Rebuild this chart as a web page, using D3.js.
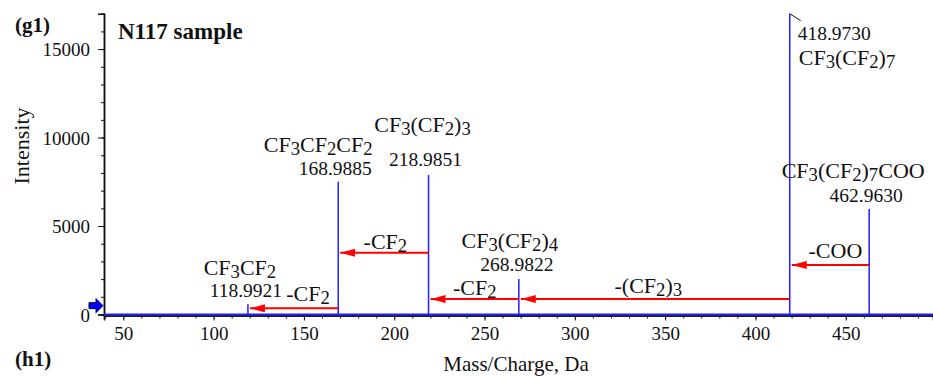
<!DOCTYPE html>
<html lang="en">
<head>
  <meta charset="UTF-8" />
  <title>N117 sample - MS/MS spectrum</title>
  <script src="https://d3js.org/d3.v7.min.js"></script>
  <style>
    body {
      margin: 0;
      background: #fff;
    }
    svg text {
      font-family: "Liberation Serif", "Times New Roman", serif;
    }
  </style>
</head>
<body>
  <svg width="933" height="376"></svg>

  <script>
    // Peak data
    const peakMz = [118.9921, 168.9885, 218.9851, 268.9822, 418.9730, 462.9630];
    const peakIntensity = [580, 7500, 7880, 2000, 17000, 5960];
    const peakFormula = ["CF_3CF_2", "CF_3CF_2CF_2", "CF_3(CF_2)_3", "CF_3(CF_2)_4", "CF_3(CF_2)_7", "CF_3(CF_2)_7COO"];

    // Neutral losses: from peak index -> to peak index, drawn at an intensity level
    const lossFrom = [1, 2, 3, 4, 5];
    const lossTo = [0, 1, 2, 3, 4];
    const lossLevel = [350, 3490, 875, 875, 2800];
    const lossLabel = ["-CF_2", "-CF_2", "-CF_2", "-(CF_2)_3", "-COO"];

    const xMajorTicks = [50, 100, 150, 200, 250, 300, 350, 400, 450];
    const yMajorTicks = [0, 5000, 10000, 15000];

    const svg = d3.select("svg");
    const x = d3.scaleLinear().domain([39.3, 498.3]).range([104, 933]);
    const y = d3.scaleLinear().domain([0, 17000]).range([314.5, 13.7]);

    const serif = "'Liberation Serif', 'Times New Roman', serif";
    const ink = "#111";
    const blue = "#1f1fff";
    const red = "#ff0000";

    // write "CF_3(CF_2)_7" style text, "_x" is a subscript char
    function chem(sel, str, size) {
      const parts = str.split(/(_\d)/).filter(s => s.length);
      let shifted = false;
      parts.forEach(p => {
        const t = sel.append("tspan");
        if (p[0] === "_") {
          t.text(p.slice(1)).attr("font-size", size * 0.85).attr("dy", shifted ? 0 : 3);
          shifted = true;
        } else {
          t.text(p);
          if (shifted) { t.attr("dy", -3); shifted = false; }
        }
      });
      return sel;
    }

    // axes
    const yAxisG = svg.append("g").attr("transform", "translate(104,0)");
    yAxisG.call(d3.axisLeft(y).tickValues(d3.range(0, 17000, 1000)).tickSize(3).tickFormat(""));
    yAxisG.append("g").call(d3.axisLeft(y).tickValues(yMajorTicks).tickSize(6).tickPadding(8)
      .tickFormat(d3.format("d")));
    yAxisG.selectAll(".domain").attr("stroke", ink).attr("stroke-width", 1.5);
    yAxisG.selectAll("line").attr("stroke", ink);
    yAxisG.selectAll("g").attr("font-family", serif);
    yAxisG.selectAll("text").attr("font-family", serif).attr("font-size", 19)
      .attr("fill", ink).attr("dy", "0.36em");

    const xAxisG = svg.append("g").attr("transform", "translate(0,315.5)");
    xAxisG.call(d3.axisBottom(x).tickValues(d3.range(40, 500, 10)).tickSize(3).tickFormat(""));
    xAxisG.append("g").call(d3.axisBottom(x).tickValues(xMajorTicks).tickSize(5).tickPadding(6)
      .tickFormat(d3.format("d")));
    xAxisG.selectAll(".domain").attr("stroke", ink).attr("stroke-width", 1.5);
    xAxisG.selectAll("line").attr("stroke", ink);
    xAxisG.selectAll("g").attr("font-family", serif);
    xAxisG.selectAll("text").attr("font-family", serif).attr("font-size", 19)
      .attr("fill", ink);

    // baseline trace
    svg.append("line")
      .attr("x1", x.range()[0]).attr("x2", x.range()[1])
      .attr("y1", y(0)).attr("y2", y(0))
      .attr("stroke", blue).attr("stroke-width", 2);

    // peaks
    svg.selectAll("line.peak")
      .data(peakMz)
      .enter()
      .append("line")
      .attr("class", "peak")
      .attr("x1", d => x(d)).attr("x2", d => x(d))
      .attr("y1", y(0))
      .attr("y2", (d, i) => y(peakIntensity[i]))
      .attr("stroke", blue)
      .attr("stroke-width", 1.5);

    // off-scale marker on the tallest peak
    const tallMz = peakMz[4];
    svg.append("line")
      .attr("x1", x(tallMz)).attr("y1", y(17000))
      .attr("x2", x(tallMz) + 11).attr("y2", y(17000) + 7)
      .attr("stroke", ink).attr("stroke-width", 1);

    // threshold marker on the y axis
    svg.append("path")
      .attr("d", "M89,302 L96,302 L96,298 L103,305 L96,312 L96,308 L89,308 Z")
      .attr("transform", `translate(0,${y(500) - 305})`)
      .attr("fill", "#0000ff")
      .attr("stroke", "#000040")
      .attr("stroke-width", 1);

    // loss arrows
    svg.append("defs").append("marker")
      .attr("id", "head")
      .attr("viewBox", "0 0 15 8")
      .attr("refX", 15).attr("refY", 4)
      .attr("markerWidth", 15).attr("markerHeight", 8)
      .attr("markerUnits", "userSpaceOnUse")
      .attr("orient", "auto")
      .append("path")
      .attr("d", "M0,0 L15,4 L0,8 Z")
      .attr("fill", red);

    svg.selectAll("line.loss")
      .data(lossFrom)
      .enter()
      .append("line")
      .attr("class", "loss")
      .attr("x1", d => x(peakMz[d]))
      .attr("x2", (d, i) => x(peakMz[lossTo[i]]) + 2)
      .attr("y1", (d, i) => y(lossLevel[i]))
      .attr("y2", (d, i) => y(lossLevel[i]))
      .attr("stroke", red)
      .attr("stroke-width", 2)
      .attr("marker-end", "url(#head)");

    // peak labels: [formula dx, formula y, mass dx, mass y, anchor]
    const peakLabelPos = [
      [-8, 275, -2, 297, "middle"],
      [-20, 152, -3, 175, "middle"],
      [-6, 132, -3, 166, "middle"],
      [-9, 248, -2, 271, "middle"],
      [9, 65, 8, 40, "start"],
      [-16, 178, -3, 202, "middle"]
    ];
    peakMz.forEach((mz, i) => {
      const p = peakLabelPos[i];
      chem(svg.append("text")
        .attr("x", x(mz) + p[0]).attr("y", p[1])
        .attr("text-anchor", p[4])
        .attr("font-family", serif)
        .attr("font-size", 22).attr("fill", ink), peakFormula[i], 22);
      svg.append("text")
        .attr("x", x(mz) + p[2]).attr("y", p[3])
        .attr("text-anchor", p[4])
        .attr("font-family", serif)
        .attr("font-size", 19.5).attr("fill", ink)
        .text(mz.toFixed(4));
    });

    // loss labels, centred on each arrow with a small pixel nudge
    const lossLabelPos = [[15, -7], [2, -4], [1, -4], [-6, -6], [6, -7]];
    lossFrom.forEach((f, i) => {
      const cx = (x(peakMz[f]) + x(peakMz[lossTo[i]])) / 2 + lossLabelPos[i][0];
      chem(svg.append("text")
        .attr("x", cx).attr("y", y(lossLevel[i]) + lossLabelPos[i][1])
        .attr("text-anchor", "middle")
        .attr("font-family", serif)
        .attr("font-size", 22).attr("fill", ink), lossLabel[i], 22);
    });

    // titles
    svg.append("text").attr("x", 15).attr("y", 32).attr("font-family", serif)
      .attr("font-size", 21).attr("font-weight", "bold").attr("fill", ink).text("(g1)");
    svg.append("text").attr("x", 15).attr("y", 366).attr("font-family", serif)
      .attr("font-size", 21).attr("font-weight", "bold").attr("fill", ink).text("(h1)");
    svg.append("text").attr("x", 118).attr("y", 39).attr("font-family", serif)
      .attr("font-size", 23).attr("font-weight", "bold").attr("fill", ink).text("N117 sample");
    svg.append("text")
      .attr("transform", "translate(29,146) rotate(-90)")
      .attr("text-anchor", "middle").attr("font-family", serif)
      .attr("font-size", 22).attr("fill", ink).text("Intensity");
    svg.append("text").attr("x", 516).attr("y", 371)
      .attr("text-anchor", "middle").attr("font-family", serif)
      .attr("font-size", 21).attr("fill", ink).text("Mass/Charge, Da");
  </script>
</body>
</html>
